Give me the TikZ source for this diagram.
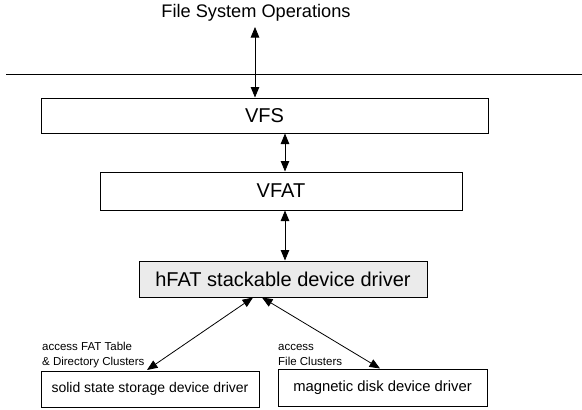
\documentclass[tikz,border=0pt]{standalone}
\usepackage{fontspec}
\setmainfont{Liberation Sans}
\usetikzlibrary{arrows.meta}
\definecolor{hgray}{HTML}{EBEBEB}
\begin{document}
\begin{tikzpicture}[x=1pt,y=-1pt,
  box/.style={draw=black,line width=1pt,inner sep=0pt,fill=white},
  arr/.style={line width=0.8pt,{Triangle[length=10.5pt,width=8.5pt]}-{Triangle[length=10.5pt,width=8.5pt]}},
  big/.style={font=\fontsize{20}{24}\selectfont},
  mid/.style={font=\fontsize{14}{17}\selectfont},
  small/.style={font=\fontsize{11.5}{15}\selectfont,align=left,anchor=west,inner sep=0pt}]
\useasboundingbox (0,0) rectangle (582,410);
\node[font=\fontsize{18.2}{22}\selectfont,inner sep=0pt] (title) at (256,13) {File System Operations};
\coordinate (tt) at (255,27);
\coordinate (L) at (6,74);
\coordinate (R) at (582,74);
\coordinate (ax) at (285,0);
\draw[line width=0.8pt] (L) -- (R);
\node[box,big,minimum width=447pt,minimum height=35pt] (vfs) at (264.5,115.5) {VFS};
\node[box,big,minimum width=362pt,minimum height=38pt] (vfat) at (281,191) {VFAT};
\node[box,big,fill=hgray,minimum width=288pt,minimum height=36pt] (hfat) at (283,279) {hFAT stackable device driver};
\node[box,mid,minimum width=218pt,minimum height=36pt] (ssd) at (150,389) {solid state storage device driver};
\node[box,mid,font=\fontsize{14.8}{17}\selectfont,minimum width=209pt,minimum height=37pt] (mdd) at (382.5,387.5) {magnetic disk device driver};
\coordinate (h1) at (253,297.5);
\coordinate (h2) at (262,297.5);
\coordinate (s1) at (147,370);
\coordinate (m1) at (380,368.5);
\draw[arr] (tt) -- (tt |- vfs.north);
\draw[arr] (vfs.south -| ax) -- (vfat.north -| ax);
\draw[arr] (vfat.south -| ax) -- (hfat.north -| ax);
\draw[arr] (h1) -- (s1);
\draw[arr] (h2) -- (m1);
\node[small] (l1) at (42,355.5) {access FAT Table\\\& Directory Clusters};
\node[small] (l2) at (278,354.5) {access\\File Clusters};
\end{tikzpicture}
\end{document}
